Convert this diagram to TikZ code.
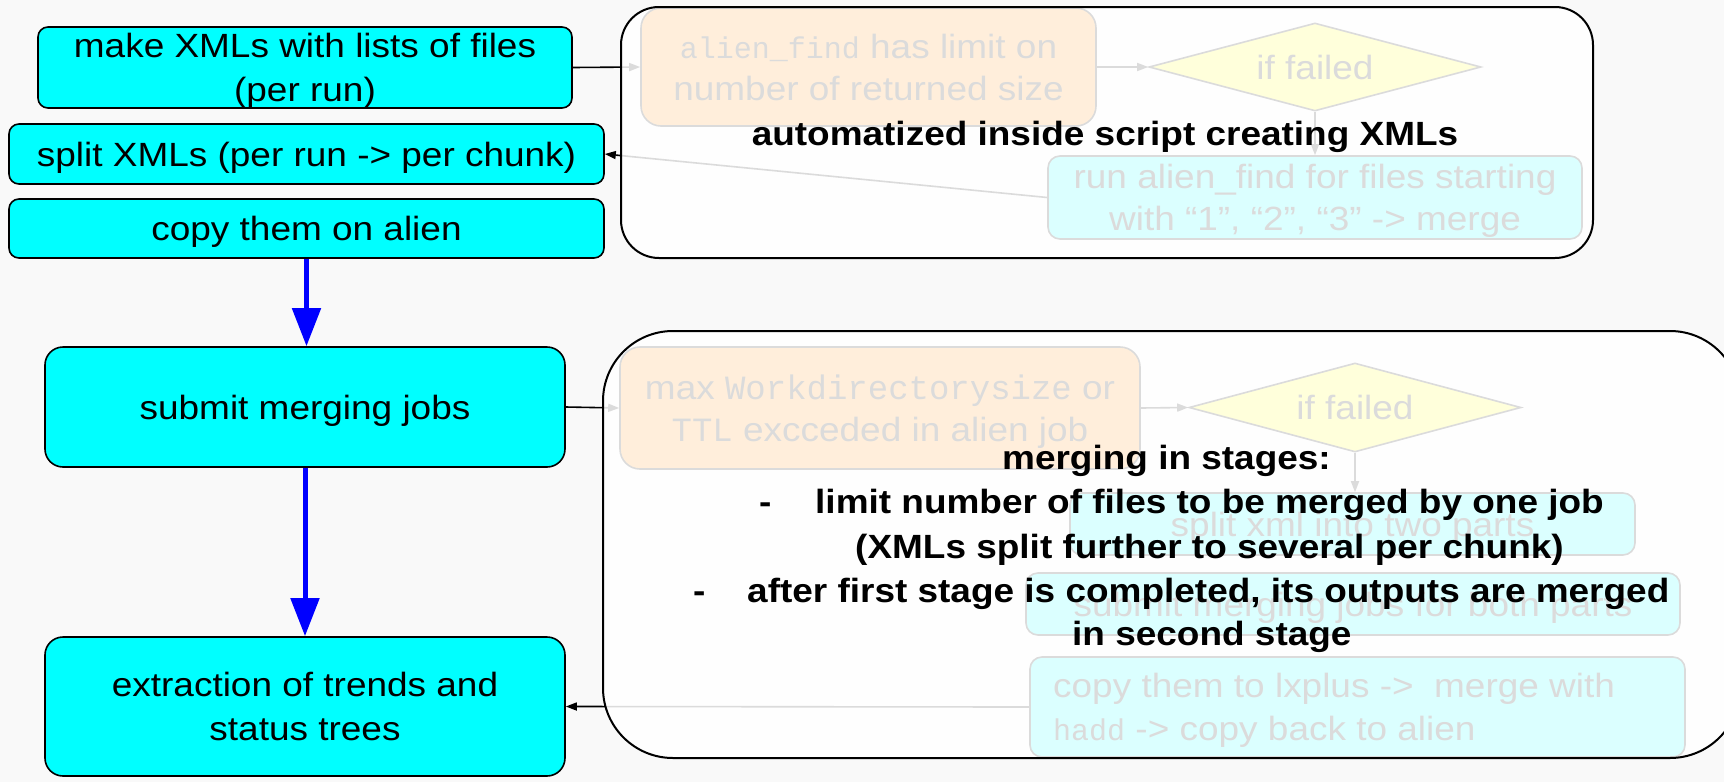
\documentclass[tikz,border=0pt]{standalone}
\usepackage{fontspec}
\setmainfont{Liberation Sans}[FakeStretch=1.1]
\setmonofont{Liberation Mono}
\usetikzlibrary{arrows.meta,shapes.geometric,calc}
\definecolor{pagebg}{RGB}{249,249,249}
\definecolor{stepcyan}{RGB}{0,255,255}
\definecolor{warnorange}{RGB}{255,141,0}
\definecolor{checkyellow}{RGB}{255,255,0}
\newcommand{\codefrag}[1]{{\fontsize{30}{44}\selectfont\ttfamily #1}}
\newcommand{\codewide}[1]{{\fontsize{34}{44}\selectfont\ttfamily #1}}
\begin{document}
\begin{tikzpicture}[x=1pt,y=-1pt,
  every node/.style={font=\fontsize{33.6}{44}\selectfont, inner sep=0pt, text depth=0pt},
  mainbox/.style={draw=black, line width=1.6pt, fill=stepcyan, rounded corners=10pt, align=center},
  bigbox/.style={mainbox, rounded corners=18pt},
  subbox/.style={draw=black, line width=1.6pt, align=center},
  issue/.style={subbox, fill=warnorange, rounded corners=20pt},
  remedy/.style={subbox, fill=stepcyan, rounded corners=12pt},
  check/.style={subbox, diamond, fill=checkyellow, aspect=3.77},
  link/.style={draw=black, line width=1.6pt, -{Triangle[length=11pt,width=8pt]}},
  flow/.style={draw=blue, line width=5pt, -{Triangle[length=38pt,width=28pt]}},
  container/.style={draw=black, line width=2pt, fill=white, fill opacity=0.86},
  note/.style={font=\fontsize{33.6}{44}\selectfont\bfseries}
]
\clip (0,0) rectangle (1724,782);
\fill[pagebg] (0,0) rectangle (1724,782);

% main workflow steps
\node[mainbox, minimum width=534pt, minimum height=81pt] (b1) at (305,67.5) {make XMLs with lists of files\\(per run)};
\node[mainbox, minimum width=595pt, minimum height=60pt] (b2) at (306.5,154) {split XMLs (per run -> per chunk)};
\node[mainbox, minimum width=595pt, minimum height=59pt] (b3) at (306.5,228.5) {copy them on alien};
\node[bigbox, minimum width=520pt, minimum height=120pt] (b4) at (305,407) {submit merging jobs};
\node[bigbox, minimum width=520pt, minimum height=139pt] (b5) at (305,706.5) {extraction of trends and\\status trees};

\draw[flow] (b3.south) -- (b3.south |- b4.north);
\draw[flow] (b4.south) -- (b5.north);

% detail flow of the XML creation
\node[issue, minimum width=455pt, minimum height=118pt, font=\fontsize{33.6}{42}\selectfont] (o1) at (868.5,67) {\codefrag{alien\_find} has limit on\\number of returned size};
\node[check, minimum width=332pt, minimum height=88pt] (d1) at (1315,67) {if failed};
\node[remedy, minimum width=534pt, minimum height=83pt, font=\fontsize{33.6}{42}\selectfont] (c1) at (1315,197.5) {run alien\_find for files starting\\with “1”, “2”, “3” -> merge};

% detail flow of the merging jobs
\node[issue, minimum width=520pt, minimum height=122pt, font=\fontsize{33.6}{42}\selectfont] (o2) at (880,408) {max \codewide{Workdirectorysize} or\\\codewide{TTL} excceded in alien job};
\node[check, minimum width=332pt, minimum height=89pt] (d2) at (1355,407.5) {if failed};
\node[remedy, minimum width=565pt, minimum height=62pt] (s2) at (1352.5,524) {split xml into two parts};
\node[remedy, minimum width=654pt, minimum height=62pt] (m2) at (1353,604) {submit merging jobs for both parts};
\node[remedy, minimum width=655pt, minimum height=100pt] (k2) at (1357.5,707) {};
\node[anchor=west, align=left, font=\fontsize{33.6}{43}\selectfont] (k2text) at (1053,707) {copy them to lxplus -> \ merge with\\\codefrag{hadd} -> copy back to alien};

\draw[link] (b1.east) -- (o1.west);
\draw[link] (o1.east) -- (d1.west);
\draw[link] (d1.south) -- (c1.north);
\draw[link] (c1.west) -- (b2.east);
\draw[link] (b4.east) -- (o2.west);
\draw[link] (o2.east) -- (d2.west);
\draw[link] (d2.south) -- (d2.south |- s2.north);
\draw[link] (k2.west) -- (b5.east);

% translucent panels over the detail flows
\node[container, rounded corners=38pt, minimum width=972pt, minimum height=251pt] (grpA) at (1107,132.5) {};
\node[container, rounded corners=70pt, minimum width=1137pt, minimum height=427pt] (grpB) at (1171.5,544.5) {};

% panel captions
\node[note, anchor=base] (autoNote) at (1105,145) {automatized inside script creating XMLs};
\node[note, anchor=base west] (stageHead) at (1002,469) {merging in stages:};
\node[note, anchor=base west] (dashA) at (759,513) {-};
\node[note, anchor=base west] (stageA) at (815,513) {limit number of files to be merged by one job};
\node[note, anchor=base west] (stageAx) at (855,558) {(XMLs split further to several per chunk)};
\node[note, anchor=base west] (dashB) at (693,602) {-};
\node[note, anchor=base west] (stageB) at (747,602) {after first stage is completed, its outputs are merged};
\node[note, anchor=base west] (stageBx) at (1072,645) {in second stage};
\end{tikzpicture}
\end{document}
